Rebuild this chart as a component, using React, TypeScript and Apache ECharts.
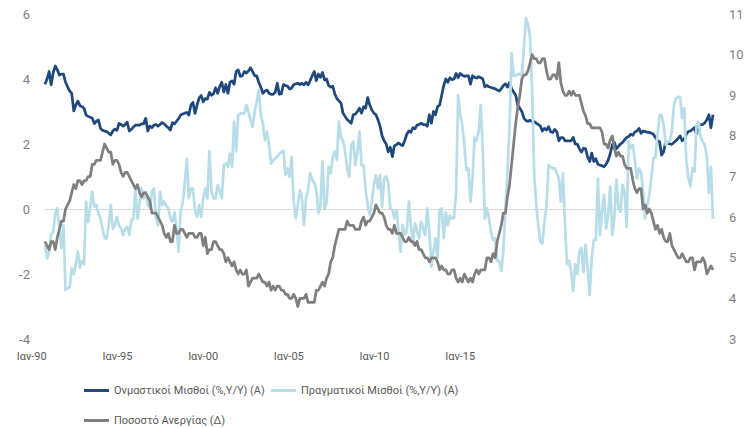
import React, { useEffect, useRef } from "react";
import * as echarts from "echarts";

// Monthly observations, Jan 1990 – Feb 2017
const startYear = 1990;
const monthCount = 326;
const categories: string[] = Array.from(
  { length: monthCount },
  (_, i) => `${startYear + Math.floor(i / 12)}-${String((i % 12) + 1).padStart(2, "0")}`
);

const xTickLabels = ["Ιαν-90", "Ιαν-95", "Ιαν-00", "Ιαν-05", "Ιαν-10", "Ιαν-15"];

const seriesNames = [
  "Ονμαστικοί Μισθοί (%,Y/Y) (Α)",
  "Πραγματικοί Μισθοί (%,Y/Y) (Α)",
  "Ποσοστό Ανεργίας (Δ)",
];

const nominalWages = [
  3.84, 4.0, 4.23, 3.82, 4.2, 4.4, 4.28, 4.12, 4.15, 4.15, 3.9, 3.76,
  3.63, 3.56, 3.02, 3.2, 3.32, 3.18, 3.15, 3.1, 2.89, 2.85, 2.82, 2.79,
  2.63, 2.7, 2.74, 2.48, 2.42, 2.4, 2.38, 2.33, 2.28, 2.4, 2.46, 2.42,
  2.63, 2.6, 2.55, 2.6, 2.67, 2.4, 2.45, 2.52, 2.58, 2.58, 2.58, 2.62,
  2.62, 2.79, 2.4, 2.55, 2.5, 2.58, 2.6, 2.55, 2.6, 2.66, 2.62, 2.55,
  2.5, 2.43, 2.66, 2.62, 2.7, 2.78, 2.89, 2.92, 2.95, 2.97, 2.89, 3.2,
  3.28, 2.94, 3.2, 3.42, 3.49, 3.3, 3.4, 3.38, 3.59, 3.5, 3.55, 3.73,
  3.56, 3.77, 3.9, 3.6, 3.83, 3.56, 3.9, 3.94, 3.84, 4.23, 4.28, 4.08,
  4.1, 4.23, 4.18, 4.25, 4.35, 4.23, 4.1, 4.1, 3.9, 3.75, 3.56, 3.63,
  3.66, 3.56, 3.53, 3.53, 3.59, 3.87, 3.53, 3.55, 3.83, 3.8, 3.78, 3.69,
  3.72, 3.82, 3.85, 3.87, 3.83, 3.87, 3.82, 3.9, 3.82, 3.95, 4.1, 4.23,
  3.95, 4.15, 4.05, 4.2, 3.97, 4.0, 3.8, 3.75, 3.78, 3.54, 3.4, 3.33,
  3.26, 2.95, 2.85, 2.75, 2.7, 2.64, 2.9, 2.92, 3.0, 3.1, 2.95, 3.15,
  3.1, 3.43, 3.2, 3.05, 2.95, 2.9, 2.75, 2.55, 2.25, 2.1, 2.0, 1.76,
  1.9, 1.61, 1.95, 1.98, 2.03, 1.98, 1.95, 2.1, 2.3, 2.4, 2.36, 2.5,
  2.47, 2.58, 2.6, 2.64, 2.6, 2.6, 2.55, 2.9, 2.64, 3.0, 2.9, 3.15,
  3.2, 3.5, 3.8, 4.0, 3.9, 4.04, 3.98, 4.0, 4.17, 4.04, 4.17, 4.12,
  4.08, 4.1, 4.1, 3.84, 4.1, 4.05, 4.03, 4.07, 4.04, 4.0, 3.76, 3.8,
  3.76, 3.74, 3.72, 3.7, 3.66, 3.63, 3.7, 3.8, 3.85, 3.75, 3.89, 3.7,
  3.6, 3.5, 3.2, 3.1, 3.0, 2.8, 2.72, 2.7, 2.73, 2.69, 2.69, 2.64,
  2.6, 2.55, 2.4, 2.48, 2.43, 2.53, 2.38, 2.35, 2.45, 2.38, 2.1, 2.2,
  2.2, 2.1, 2.1, 2.1, 2.1, 2.2, 2.0, 2.0, 1.85, 1.75, 1.87, 1.85,
  1.6, 1.46, 1.72, 1.46, 1.55, 1.38, 1.35, 1.33, 1.3, 1.38, 1.5, 1.7,
  1.97, 2.05, 1.85, 1.93, 2.0, 2.05, 2.13, 2.2, 2.23, 2.3, 2.27, 2.37,
  2.4, 2.48, 2.33, 2.4, 2.38, 2.36, 2.36, 2.33, 2.3, 2.2, 2.1, 2.07,
  1.66, 1.76, 2.07, 2.02, 2.0, 1.99, 2.05, 2.1, 2.17, 2.25, 2.1, 2.15,
  2.3, 2.38, 2.4, 2.45, 2.5, 2.3, 2.55, 2.6, 2.6, 2.65, 2.75, 2.9,
  2.5, 2.9,
];

const realWages = [
  -1.09, -1.52, -1.3, -0.78, -0.7, -0.13, 0.02, -0.6, -1.2, -0.5, -2.49, -2.45,
  -2.4, -1.83, -2.0, -1.7, -1.3, -1.8, -1.6, -1.7, 0.23, -0.4, 0.07, 0.53,
  0.07, 0.12, -0.13, -0.3, -0.6, -0.9, -0.9, -0.5, 0.12, -0.6, -0.5, -0.24,
  -0.5, -0.6, -0.8, -0.6, -0.55, -0.8, -0.34, -0.3, 0.58, -0.3, 0.17, 0.64,
  0.33, 0.53, 0.12, 0.02, 0.53, 0.63, -0.29, -0.5, 0.53, 0.12, 0.23, 0.1,
  0.02, -0.29, -0.39, -0.1, -0.6, -1.31, -0.08, 0.2, 0.8, 1.54, 0.33, 0.63,
  0.63, -0.08, -0.24, 0.12, -0.24, 0.33, 0.63, 0.33, 1.78, 0.53, 0.33, 0.33,
  0.74, 0.58, 0.33, 1.35, 1.4, 1.3, 1.7, 1.3, 2.69, 1.77, 2.89, 2.94,
  2.94, 2.94, 3.2, 2.99, 2.74, 2.53, 2.99, 3.3, 3.66, 2.89, 2.63, 2.12,
  2.38, 1.97, 1.4, 1.5, 1.55, 1.6, 1.7, 1.75, 1.8, 1.04, 1.25, 0.99,
  1.6, 0.23, -0.29, 0.12, 0.57, 0.32, -0.49, 0.33, 0.58, 1.1, 0.9, 0.8,
  0.6, -0.13, 0.1, 1.46, 0.0, 0.2, 1.3, 1.1, 1.6, 1.77, 1.5, 2.69,
  2.2, 2.1, 1.77, 1.25, 1.0, 1.97, 2.07, 1.35, 1.77, 2.38, 1.35, 1.35,
  0.58, 0.12, -0.18, 0.23, 0.74, 1.04, 0.63, 1.04, 0.07, 0.94, 1.0, 0.8,
  0.02, -0.03, -0.29, -0.03, -0.69, -1.31, -0.49, -0.8, -0.69, 0.23, -0.49, -1.05,
  -0.44, -0.69, -0.9, -0.39, -0.6, -0.8, 0.02, -0.7, -1.77, -1.31, -0.9, -1.5,
  -0.03, 0.02, -0.9, -0.1, -0.5, -0.2, -0.28, -0.28, 0.53, 3.5, 2.9, 2.6,
  2.0, 1.2, 1.25, 0.23, 0.95, 2.2, 2.1, 2.38, 3.2, 1.77, -0.3, 0.02,
  -0.29, -0.7, -0.95, -0.9, -1.6, -1.6, -1.9, -1.3, 0.0, 1.15, 2.5, 4.79,
  4.1, 4.1, 4.15, 4.15, 4.1, 5.0, 5.87, 5.66, 5.3, 3.7, 1.1, 0.12,
  -0.5, -1.0, -1.06, -0.39, 0.12, 1.35, 1.3, 1.25, 1.25, 1.1, 0.94, 0.23,
  1.1, -0.5, -1.7, -1.6, -1.95, -2.52, -1.7, -2.0, -1.3, -1.2, -1.94, -1.1,
  -1.8, -2.65, -1.5, -0.95, -0.95, 0.94, -0.8, -0.08, 0.43, -0.6, -0.18, 0.69,
  -0.8, -0.29, 0.9, 0.02, -0.08, 0.74, 0.53, -0.55, 2.07, 1.87, 1.97, 1.5,
  0.94, 1.25, 1.15, 0.53, -0.29, 0.12, 0.43, 0.94, 1.56, 1.6, 2.3, 2.89,
  2.89, 2.58, 1.97, 2.07, 2.1, 2.4, 3.2, 3.4, 3.45, 3.45, 2.8, 3.1,
  1.5, 0.94, 0.7, 1.25, 1.15, 2.58, 2.69, 2.2, 2.07, 1.97, 1.6, 0.5,
  1.3, -0.3,
];

const unemploymentRate = [
  5.4, 5.3, 5.2, 5.4, 5.4, 5.2, 5.5, 5.7, 5.9, 5.9, 6.2, 6.3,
  6.4, 6.6, 6.8, 6.7, 6.9, 6.9, 6.8, 6.9, 6.9, 7.0, 7.0, 7.3,
  7.3, 7.4, 7.4, 7.4, 7.6, 7.8, 7.7, 7.6, 7.6, 7.3, 7.4, 7.4,
  7.3, 7.1, 7.0, 7.1, 7.1, 7.0, 6.9, 6.8, 6.7, 6.8, 6.6, 6.5,
  6.6, 6.6, 6.5, 6.4, 6.1, 6.1, 6.1, 6.0, 5.9, 5.8, 5.6, 5.5,
  5.6, 5.4, 5.4, 5.8, 5.6, 5.6, 5.7, 5.7, 5.6, 5.5, 5.6, 5.6,
  5.6, 5.5, 5.5, 5.6, 5.6, 5.3, 5.5, 5.1, 5.2, 5.2, 5.4, 5.4,
  5.3, 5.2, 5.2, 5.1, 4.9, 5.0, 4.9, 4.8, 4.9, 4.7, 4.6, 4.7,
  4.6, 4.6, 4.7, 4.3, 4.4, 4.5, 4.5, 4.5, 4.6, 4.5, 4.4, 4.4,
  4.3, 4.4, 4.2, 4.3, 4.2, 4.3, 4.3, 4.2, 4.2, 4.1, 4.1, 4.0,
  4.0, 4.1, 4.0, 3.8, 4.0, 4.0, 4.0, 4.1, 3.9, 3.9, 3.9, 3.9,
  4.2, 4.2, 4.3, 4.4, 4.3, 4.5, 4.6, 4.9, 5.0, 5.3, 5.5, 5.7,
  5.7, 5.7, 5.7, 5.9, 5.8, 5.8, 5.8, 5.7, 5.7, 5.7, 5.9, 6.0,
  5.8, 5.9, 5.9, 6.0, 6.1, 6.3, 6.2, 6.1, 6.1, 6.0, 5.8, 5.7,
  5.7, 5.6, 5.8, 5.6, 5.6, 5.6, 5.5, 5.4, 5.4, 5.5, 5.4, 5.4,
  5.3, 5.4, 5.2, 5.2, 5.1, 5.0, 5.0, 4.9, 5.0, 5.0, 5.0, 4.9,
  4.7, 4.8, 4.7, 4.7, 4.6, 4.6, 4.7, 4.7, 4.5, 4.4, 4.5, 4.4,
  4.6, 4.5, 4.4, 4.5, 4.4, 4.6, 4.7, 4.6, 4.7, 4.7, 4.7, 5.0,
  5.0, 4.9, 5.1, 5.0, 5.4, 5.6, 5.8, 6.1, 6.1, 6.5, 6.8, 7.3,
  7.8, 8.3, 8.7, 9.0, 9.4, 9.5, 9.5, 9.6, 9.8, 10.0, 9.9, 9.9,
  9.8, 9.8, 9.9, 9.9, 9.6, 9.4, 9.4, 9.5, 9.5, 9.4, 9.8, 9.3,
  9.1, 9.0, 9.0, 9.1, 9.0, 9.1, 9.0, 9.0, 9.0, 8.8, 8.6, 8.5,
  8.3, 8.3, 8.2, 8.2, 8.2, 8.2, 8.2, 8.1, 7.8, 7.8, 7.7, 7.9,
  8.0, 7.7, 7.5, 7.6, 7.5, 7.5, 7.3, 7.2, 7.2, 7.2, 6.9, 6.7,
  6.6, 6.7, 6.7, 6.2, 6.3, 6.1, 6.2, 6.1, 5.9, 5.7, 5.8, 5.6,
  5.7, 5.5, 5.4, 5.4, 5.6, 5.3, 5.2, 5.1, 5.0, 5.0, 5.1, 5.0,
  4.9, 4.9, 5.0, 5.0, 4.7, 4.9, 4.9, 4.9, 5.0, 4.9, 4.6, 4.7,
  4.8, 4.7,
];

const FONT = "Roboto, 'Liberation Sans', Arial, sans-serif";
const COLORS = ["#1F497D", "#B7DEE8", "#7F7F7F"];

export default function App() {
  const ref = useRef<HTMLDivElement>(null);

  useEffect(() => {
    if (!ref.current) return;
    const chart = echarts.init(ref.current, undefined, { renderer: "svg" });
    const legendText = { color: "#595959", fontSize: 11, fontFamily: FONT };
    chart.setOption({
      animation: false,
      textStyle: { fontFamily: FONT },
      grid: [
        { left: 45, top: 14, width: 668, height: 325 },
        { left: 31.7, top: 14, width: 428.5, height: 325 },
      ],
      xAxis: [
        {
          type: "category",
          gridIndex: 0,
          data: categories,
          boundaryGap: false,
          axisLine: { onZero: true, lineStyle: { color: "#D9D9D9", width: 1 } },
          axisTick: { show: false },
          axisLabel: { show: false },
          splitLine: { show: false },
        },
        {
          type: "category",
          gridIndex: 1,
          data: xTickLabels,
          boundaryGap: false,
          axisLine: { show: false },
          axisTick: { show: false },
          splitLine: { show: false },
          axisLabel: { interval: 0, color: "#595959", fontSize: 11, margin: 12, fontFamily: FONT },
        },
      ],
      yAxis: [
        {
          type: "value",
          gridIndex: 0,
          position: "left",
          min: -4,
          max: 6,
          interval: 2,
          axisLine: { show: false },
          axisTick: { show: false },
          splitLine: { show: false },
          axisLabel: { color: "#7F7F7F", fontSize: 13, margin: 15, fontFamily: FONT },
        },
        {
          type: "value",
          gridIndex: 0,
          position: "right",
          min: 3,
          max: 11,
          interval: 1,
          axisLine: { show: false },
          axisTick: { show: false },
          splitLine: { show: false },
          axisLabel: { color: "#7F7F7F", fontSize: 13, margin: 16, fontFamily: FONT },
        },
        { type: "value", gridIndex: 1, show: false, min: 0, max: 1 },
      ],
      legend: [
        {
          data: [seriesNames[0], seriesNames[1]],
          left: 79,
          top: 380,
          icon: "rect",
          itemWidth: 25,
          itemHeight: 3,
          itemGap: 6,
          textStyle: legendText,
        },
        {
          data: [seriesNames[2]],
          left: 79,
          top: 410,
          icon: "rect",
          itemWidth: 25,
          itemHeight: 3,
          textStyle: legendText,
        },
      ],
      series: [
        {
          name: seriesNames[0],
          type: "line",
          xAxisIndex: 0,
          yAxisIndex: 0,
          data: nominalWages,
          symbol: "none",
          lineStyle: { color: COLORS[0], width: 2.75, join: "round" },
          itemStyle: { color: COLORS[0] },
        },
        {
          name: seriesNames[1],
          type: "line",
          xAxisIndex: 0,
          yAxisIndex: 0,
          data: realWages,
          symbol: "none",
          lineStyle: { color: COLORS[1], width: 2.75, join: "round" },
          itemStyle: { color: COLORS[1] },
        },
        {
          name: seriesNames[2],
          type: "line",
          xAxisIndex: 0,
          yAxisIndex: 1,
          data: unemploymentRate,
          symbol: "none",
          lineStyle: { color: COLORS[2], width: 2.75, join: "round" },
          itemStyle: { color: COLORS[2] },
        },
      ],
    });
    return () => chart.dispose();
  }, []);

  return (
    <div
      ref={ref}
      style={{ position: "fixed", left: 0, top: 0, width: 750, height: 428, background: "#fff" }}
    />
  );
}
